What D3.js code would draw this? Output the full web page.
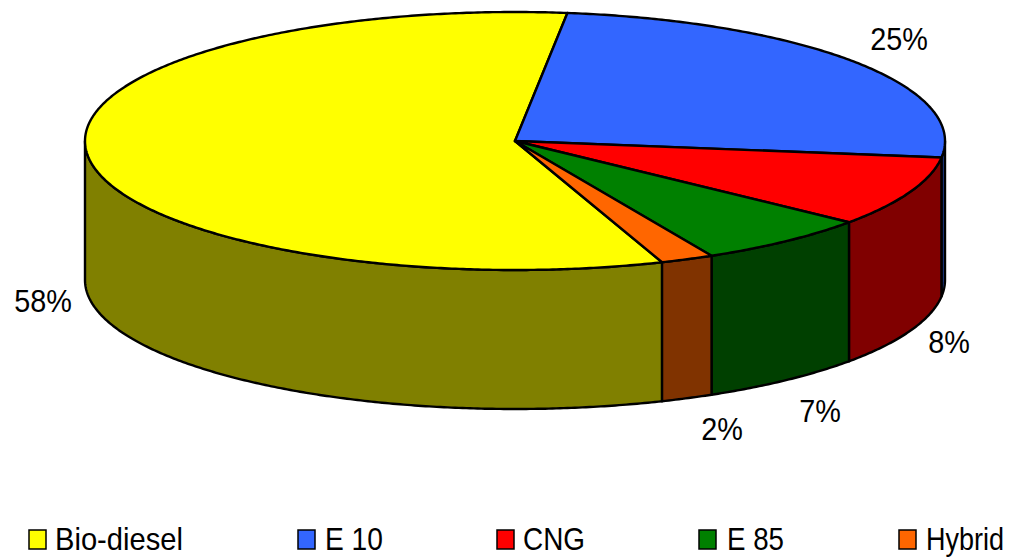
<!DOCTYPE html>
<html>
<head>
<meta charset="utf-8">
<script src="https://cdn.jsdelivr.net/npm/d3@7"></script>
<style>
  html, body { margin: 0; padding: 0; background: #fff; }
  text { font-family: "Liberation Sans", Arial, sans-serif; font-size: 32px; fill: #000; }
</style>
</head>
<body>
<div id="chart"></div>
<script>
var categories = ['Bio-diesel', 'E 10', 'CNG', 'E 85', 'Hybrid'];
// the printed labels are rounded
var shares = [57.5, 25.1, 8.8, 6.6, 2.0];
var shareLabels = ['58%', '25%', '8%', '7%', '2%'];
var topColors = ['#ffff00', '#3366ff', '#ff0000', '#008000', '#ff6600'];
var sideColors = ['#808000', '#1f3d8f', '#800000', '#004000', '#803300'];

var width = 1009, height = 559;
var depth = 139;
var deg = Math.PI / 180;
var textSquash = 0.9; // reference text is narrower than Arial

// unit circle -> screen ellipse
var x = d3.scaleLinear().domain([-1, 1]).range([85, 945]);
var y = d3.scaleLinear().domain([-1, 1]).range([12, 270]);

var svg = d3.select('#chart').append('svg')
  .attr('width', width)
  .attr('height', height)
  .style('display', 'block');

var pie = d3.pie().sort(null)
  .startAngle(160 * deg)
  .endAngle(520 * deg);

var slices = pie(shares);

// points along the rim between two angles, dy pushes them down to the bottom rim
function rim(a, b, dy) {
  var n = Math.max(2, Math.ceil(Math.abs(b - a) / (0.5 * deg)));
  return d3.range(n + 1).map(function(i) {
    var t = a + (b - a) * i / n;
    return [x(Math.sin(t)), y(-Math.cos(t)) + dy];
  });
}

var line = d3.line();

// only the front half of the wall is visible, from 90 to 270 degrees
function sidePaths(d) {
  var paths = [];
  [0, 1].forEach(function(k) {
    var lo = Math.max(d.startAngle, (90 + 360 * k) * deg);
    var hi = Math.min(d.endAngle, (270 + 360 * k) * deg);
    if (lo < hi) {
      paths.push(line(rim(lo, hi, 0).concat(rim(hi, lo, depth))) + 'Z');
    }
  });
  return paths;
}

var sides = svg.append('g').attr('class', 'sides');
slices.forEach(function(d, i) {
  sides.selectAll(null)
    .data(sidePaths(d))
    .enter().append('path')
    .attr('d', function(p) { return p; })
    .attr('fill', sideColors[i])
    .attr('stroke', '#000')
    .attr('stroke-width', 2.4)
    .attr('stroke-linejoin', 'round');
});

svg.append('g').attr('class', 'tops')
  .selectAll('path')
  .data(slices)
  .enter().append('path')
  .attr('d', function(d) {
    return line([[x(0), y(0)]].concat(rim(d.startAngle, d.endAngle, 0))) + 'Z';
  })
  .attr('fill', function(d, i) { return topColors[i]; })
  .attr('stroke', '#000')
  .attr('stroke-width', 2.4)
  .attr('stroke-linejoin', 'round');

// percent labels were placed by hand around the pie
var labelX = [43, 899, 949, 820, 722];
var labelY = [312, 50, 353, 422, 440];

svg.append('g').attr('class', 'labels')
  .selectAll('text')
  .data(shareLabels)
  .enter().append('text')
  .attr('transform', function(d, i) {
    return 'translate(' + labelX[i] + ',' + labelY[i] + ') scale(' + textSquash + ',1)';
  })
  .attr('text-anchor', 'middle')
  .text(function(d) { return d; });

// legend
var legendX = [29, 298, 497, 699, 899];
var legendTextX = [55, 325, 523, 727, 926];
var legendTextWidth = [128, 58, 62, 57, 78];

var legend = svg.append('g').attr('class', 'legend');

legend.selectAll('rect')
  .data(categories)
  .enter().append('rect')
  .attr('x', function(d, i) { return legendX[i]; })
  .attr('y', 530)
  .attr('width', 17)
  .attr('height', 19)
  .attr('fill', function(d, i) { return topColors[i]; })
  .attr('stroke', '#000')
  .attr('stroke-width', 1.5);

// squeeze each legend text to the width it has in the reference
legend.selectAll('text')
  .data(categories)
  .enter().append('text')
  .text(function(d) { return d; })
  .attr('transform', function(d, i) {
    var sx = legendTextWidth[i] / this.getComputedTextLength();
    return 'translate(' + legendTextX[i] + ',550) scale(' + sx + ',1)';
  });
</script>
</body>
</html>
